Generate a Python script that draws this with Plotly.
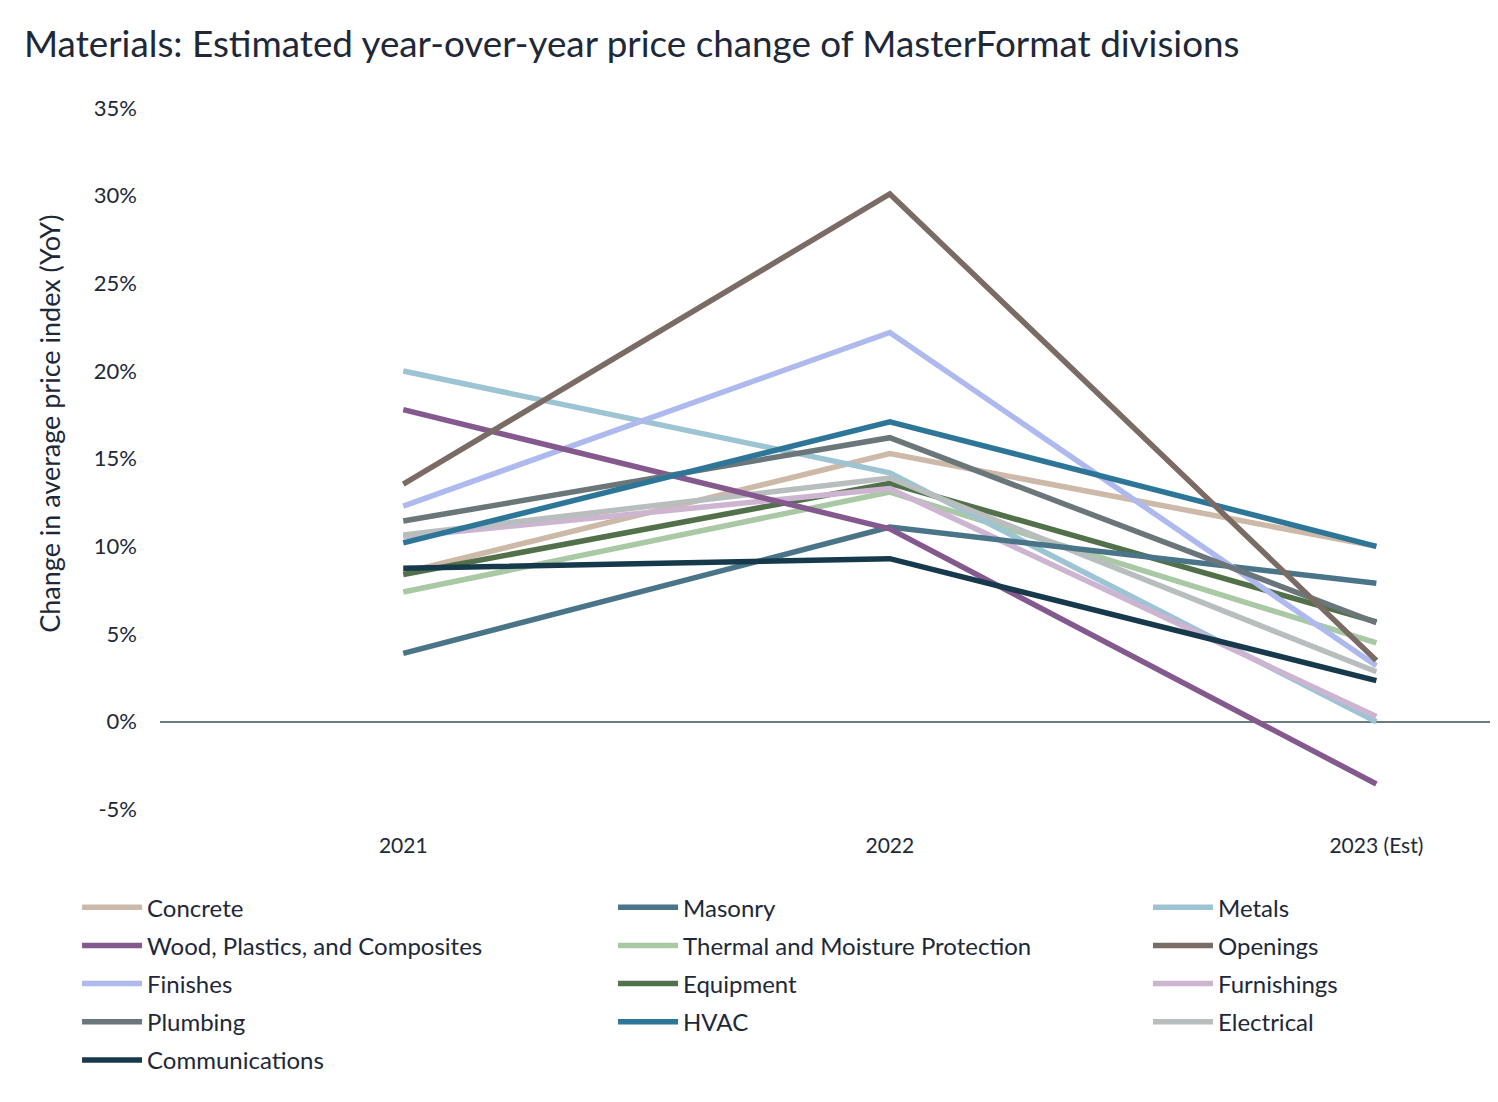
import plotly.graph_objects as go

years = ["2021", "2022", "2023 (Est)"]

concrete = [8.5, 15.3, 10.0]
masonry = [3.9, 11.1, 7.9]
metals = [20.0, 14.2, 0.0]
wood = [17.8, 11.0, -3.55]
thermal = [7.4, 13.1, 4.5]
openings = [13.55, 30.1, 3.5]
finishes = [12.3, 22.2, 3.2]
equipment = [8.4, 13.6, 5.7]
furnishings = [10.55, 13.3, 0.3]
plumbing = [11.45, 16.2, 5.65]
hvac = [10.2, 17.1, 10.0]
electrical = [10.65, 13.9, 2.85]
communications = [8.75, 9.3, 2.35]

series_names = ["Concrete", "Masonry", "Metals", "Wood, Plastics, and Composites",
                "Thermal and Moisture Protection", "Openings", "Finishes", "Equipment",
                "Furnishings", "Plumbing", "HVAC", "Electrical", "Communications"]
series_values = [concrete, masonry, metals, wood, thermal, openings, finishes, equipment,
                 furnishings, plumbing, hvac, electrical, communications]
series_colors = ["#CDB9A8", "#4A7588", "#9DC4D3", "#845A8E", "#A9C8A4", "#7A6C64",
                 "#AEB9EE", "#52714A", "#CDB5D2", "#6A767A", "#2E7698", "#B8BEBE", "#163A4C"]

# legend columns (3 columns, filled row by row)
legend_ids = ["legend", "legend2", "legend3"]

# drawing order (back to front) roughly as in reference
draw_order = [0, 4, 2, 7, 8, 11, 1, 6, 3, 9, 10, 5, 12]

y_ticks = [-5, 0, 5, 10, 15, 20, 25, 30, 35]
y_tick_text = [f"{v}%" for v in y_ticks]

FONT = "Lato"
TXT = "#1E2838"

fig = go.Figure()
traces = {}
for i in range(len(series_names)):
    traces[i] = go.Scatter(x=years, y=series_values[i], name=series_names[i], mode="lines",
                           line=dict(color=series_colors[i], width=5.5), legendrank=i + 1,
                           legend=legend_ids[i % 3], legendgroup=f"g{i}")
for i in draw_order:
    fig.add_trace(traces[i])

W, H = 1490, 1094
ML, MT, MB = 152, 93, 274.5
PH = H - MT - MB

leg_common = dict(orientation="v", xanchor="left", y=-0.0800, yanchor="top",
                  traceorder="grouped", font=dict(family=FONT, size=24, color=TXT),
                  tracegroupgap=4, itemwidth=60, bgcolor="rgba(0,0,0,0)")
col_x = [-0.062, 0.3386, 0.7384]

fig.update_layout(
    width=W, height=H,
    paper_bgcolor="white", plot_bgcolor="white",
    margin=dict(l=ML, r=0, t=MT, b=MB, autoexpand=False),
    font=dict(family=FONT, color=TXT, size=20),
    title=dict(text="Materials: Estimated year-over-year price change of MasterFormat divisions",
               x=16 / W, xanchor="left", xref="container",
               y=1 - 36 / H, yanchor="middle", yref="container",
               font=dict(family=FONT, size=36.8, color=TXT)),
    showlegend=True,
    legend=dict(x=col_x[0], **leg_common),
    legend2=dict(x=col_x[1], **leg_common),
    legend3=dict(x=col_x[2], **leg_common),
)
fig.update_xaxes(type="category", range=[-0.5, 2.25], showgrid=False, showline=False,
                 zeroline=False, ticks="", tickfont=dict(size=21, color=TXT),
                 ticklabelstandoff=4)
fig.update_yaxes(range=[-6, 35.4], tickvals=y_ticks, ticktext=y_tick_text, showgrid=False,
                 zeroline=True, zerolinecolor="#6B7B80", zerolinewidth=1.5, showline=False,
                 ticks="", tickfont=dict(size=22, color=TXT), ticklabelstandoff=22)

fig.add_annotation(text="Change in average price index (YoY)", textangle=-90,
                   xref="paper", yref="paper",
                   x=(42 - ML) / (W - ML), y=(H - MB - 416) / PH,
                   xanchor="center", yanchor="middle", showarrow=False,
                   font=dict(family=FONT, size=27, color=TXT))

fig.write_html("out.html")
